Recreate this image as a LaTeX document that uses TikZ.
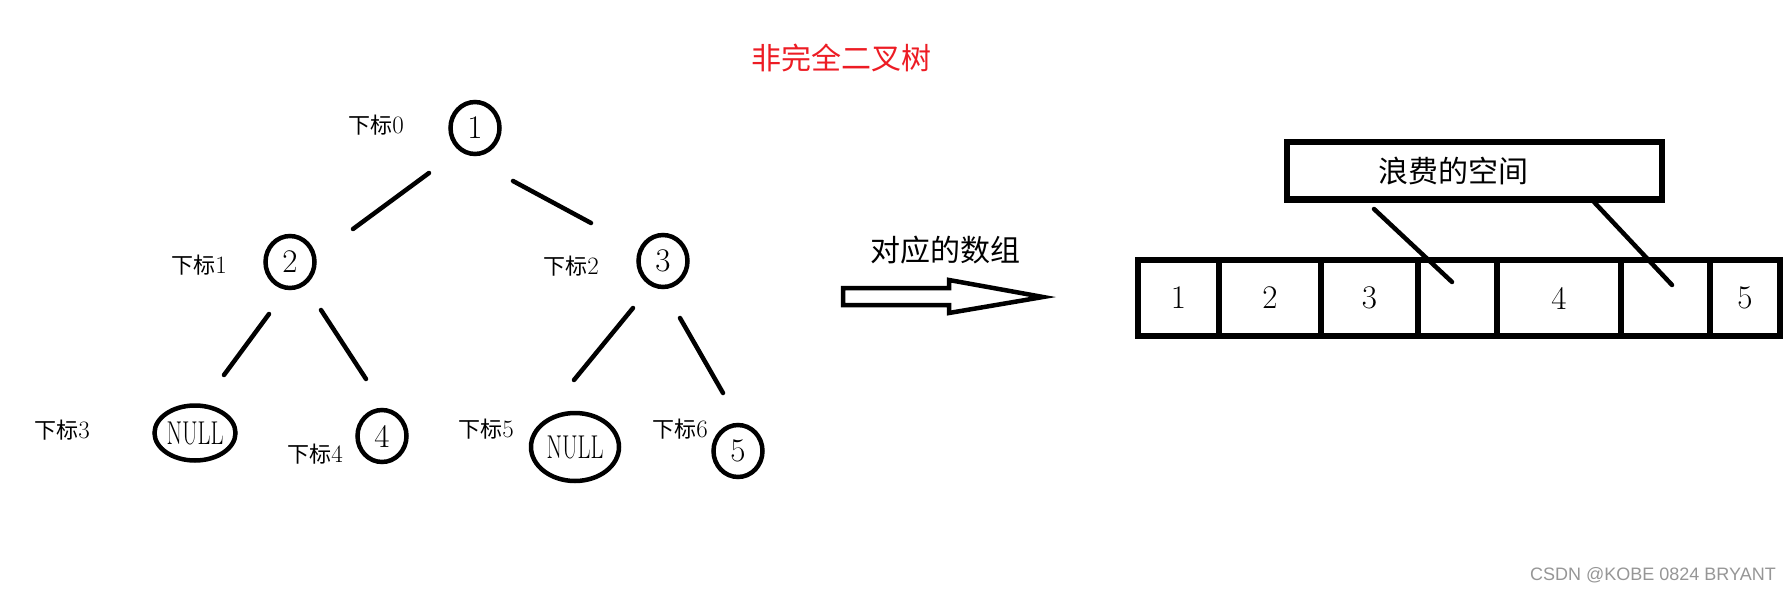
\documentclass[tikz,border=0pt]{standalone}
\usepackage{fontspec}
\usepackage{graphicx}
\newfontfamily\cjk{Noto Sans CJK SC}
\newfontfamily\wmfont{Liberation Sans}
\usetikzlibrary{positioning, shapes.geometric}
\definecolor{paintred}{RGB}{237,28,36}
\definecolor{wmgray}{RGB}{150,150,150}

\begin{document}
\begin{tikzpicture}[
x=1pt, y=-1pt,
tnode/.style={ellipse, draw, line width=4.5pt, inner sep=0pt,
minimum width=49pt, minimum height=52pt, font=\fontsize{33pt}{33pt}\selectfont},
idx/.style={inner sep=0pt, font=\fontsize{22pt}{22pt}\selectfont},
cjklabel/.style={inner sep=0pt, font=\cjk\fontsize{30pt}{30pt}\selectfont},
link/.style={line width=4.5pt, line cap=round},
cell/.style={rectangle, draw, line width=5.5pt, minimum height=76pt,
inner sep=0pt, outer sep=0pt, font=\fontsize{33pt}{33pt}\selectfont},
ptr/.style={line width=4.5pt, line cap=round},
wastebox/.style={rectangle, draw, line width=6pt, minimum height=57pt,
inner xsep=92pt, inner ysep=0pt, outer sep=0pt, text width=191pt,
align=left, font=\cjk\fontsize{30pt}{30pt}\selectfont}
]
\path[fill=white, use as bounding box] (0,0) rectangle (1792,591);

% title
\node[cjklabel, text=paintred] (title) at (841,58) {非完全二叉树};

% tree
\node[tnode] (n0) at (475,128) {1};
\node[tnode] (n1) at (290,262) {2};
\node[tnode] (n2) at (663,261) {3};
\node[tnode, minimum width=81pt, minimum height=55pt,
label={[font=\fontsize{33pt}{33pt}\selectfont]center:{\scalebox{0.68}[1]{NULL}}}] (n3) at (195,433) {};
\node[tnode] (n4) at (382,436) {4};
\node[tnode, minimum width=88pt, minimum height=68pt,
label={[font=\fontsize{33pt}{33pt}\selectfont]center:{\scalebox{0.68}[1]{NULL}}}] (n5) at (575,447) {};
\node[tnode] (n6) at (738,451) {5};

\node[idx] (i0) at (376,125) {{\cjk 下标}{\fontsize{25pt}{25pt}\selectfont 0}};
\node[idx] (i1) at (199,265) {{\cjk 下标}{\fontsize{25pt}{25pt}\selectfont 1}};
\node[idx] (i2) at (571,266) {{\cjk 下标}{\fontsize{25pt}{25pt}\selectfont 2}};
\node[idx] (i3) at (62,430) {{\cjk 下标}{\fontsize{25pt}{25pt}\selectfont 3}};
\node[idx] (i4) at (315,454) {{\cjk 下标}{\fontsize{25pt}{25pt}\selectfont 4}};
\node[idx] (i5) at (486,429) {{\cjk 下标}{\fontsize{25pt}{25pt}\selectfont 5}};
\node[idx] (i6) at (680,429) {{\cjk 下标}{\fontsize{25pt}{25pt}\selectfont 6}};

\draw[link] ([shift={(-46,45)}]n0.center) -- ([shift={(63,-33)}]n1.center);
\draw[link] ([shift={(38,53)}]n0.center) -- ([shift={(-72,-38)}]n2.center);
\draw[link] ([shift={(-21,52)}]n1.center) -- ([shift={(29,-58)}]n3.center);
\draw[link] ([shift={(31,48)}]n1.center) -- ([shift={(-16,-57)}]n4.center);
\draw[link] ([shift={(-30,47)}]n2.center) -- ([shift={(-1,-67)}]n5.center);
\draw[link] ([shift={(17,57)}]n2.center) -- ([shift={(-15,-58)}]n6.center);

% hollow arrow
\node[cjklabel] (maplbl) at (945,250) {对应的数组};
\draw[line width=4.5pt, miter limit=20] (843,288) -- (949,288) -- (949,280)
-- (1043,297) -- (949,313) -- (949,305) -- (843,305) -- cycle;

% array
\node[cell, minimum width=81pt] (c0) at (1178.5,298) {1};
\node[cell, minimum width=102pt, right=0pt of c0] (c1) {2};
\node[cell, minimum width=97pt, right=0pt of c1] (c2) {3};
\node[cell, minimum width=79pt, right=0pt of c2] (c3) {};
\node[cell, minimum width=124pt, right=0pt of c3] (c4) {4};
\node[cell, minimum width=89pt, right=0pt of c4] (c5) {};
\node[cell, minimum width=70pt, right=0pt of c5] (c6) {5};

\node[wastebox] (waste) at (1474,171) {浪费的空间};
\draw[ptr] ([shift={(-100,9.5)}]waste.south) -- ([shift={(-5.5,-16)}]c3.center);
\draw[ptr] ([shift={(120,2.5)}]waste.south) -- ([shift={(6.5,-13)}]c5.center);

\node[inner sep=0pt, text=wmgray, font=\wmfont\fontsize{18pt}{18pt}\selectfont] (wm) at (1653,575) {CSDN @KOBE 0824 BRYANT};
\end{tikzpicture}
\end{document}
